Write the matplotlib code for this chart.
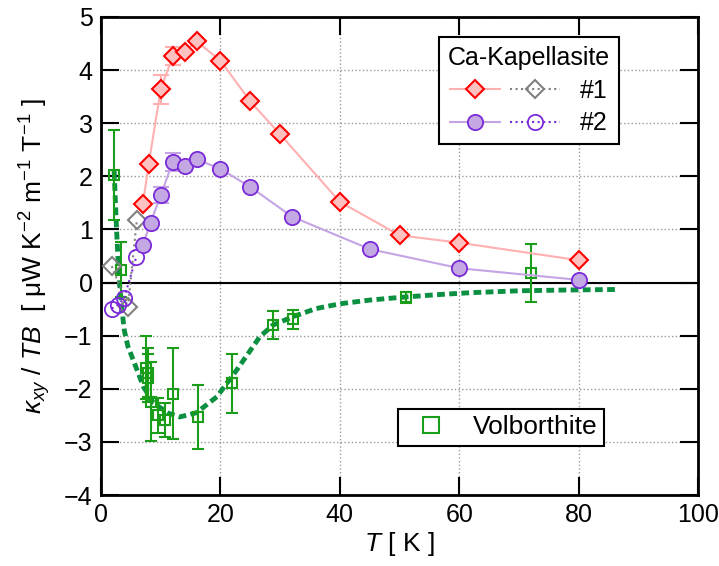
import matplotlib
matplotlib.use('Agg')
import matplotlib.pyplot as plt
from matplotlib.lines import Line2D
from matplotlib.legend_handler import HandlerTuple

plt.rcParams['font.family'] = ['Liberation Sans', 'DejaVu Sans']
plt.rcParams['mathtext.fontset'] = 'custom'
plt.rcParams['mathtext.rm'] = 'Liberation Sans'
plt.rcParams['mathtext.it'] = 'Liberation Sans:italic'

# Ca-Kapellasite sample #1 (filled) and low-T (open)
t1 = [7, 8, 10, 12, 14, 16, 20, 25, 30, 40, 50, 60, 80]
k1 = [1.47, 2.24, 3.64, 4.26, 4.35, 4.54, 4.18, 3.41, 2.79, 1.52, 0.89, 0.75, 0.42]
e1 = [0, 0, 0.27, 0.17, 0, 0, 0, 0, 0, 0, 0, 0, 0]
t1_open = [1.8, 4.5, 6.0]
k1_open = [0.31, -0.46, 1.18]

# Ca-Kapellasite sample #2
t2 = [7, 8.3, 10, 12, 14, 16, 20, 25, 32, 45, 60, 80]
k2 = [0.70, 1.13, 1.64, 2.27, 2.20, 2.32, 2.14, 1.80, 1.24, 0.63, 0.27, 0.05]
e2 = [0, 0, 0.15, 0.17, 0, 0, 0, 0, 0, 0, 0, 0]
t2_open = [1.8, 2.8, 3.85, 5.9]
k2_open = [-0.49, -0.42, -0.30, 0.48]

# Volborthite
tv = [2.2, 3.35, 7.6, 7.8, 7.9, 8.3, 9.6, 10.7, 12.1, 16.2, 21.9, 28.8, 32.2, 51, 72]
kv = [2.03, 0.24, -1.60, -1.70, -1.80, -2.24, -2.50, -2.58, -2.09, -2.53, -1.90, -0.80, -0.69, -0.28, 0.18]
ev = [0.85, 0.52, 0.60, 0.46, 0.45, 0.75, 0.33, 0.32, 0.85, 0.60, 0.56, 0.27, 0.18, 0.10, 0.55]

# dashed guide curve for Volborthite
tf = [2.2, 2.6, 3.0, 3.5, 3.9, 4.5, 5.4, 7.1, 8.8, 11.3, 13.2, 16, 19.4, 22.7, 26.6, 28.8, 32.2,
      36, 40, 45, 50, 56, 62, 70, 78, 86.6]
kf = [2.1, 1.0, 0.1, -0.5, -0.9, -1.2, -1.46, -1.96, -2.27, -2.46, -2.53, -2.45, -2.15, -1.65, -1.02, -0.80, -0.64,
      -0.49, -0.40, -0.33, -0.28, -0.23, -0.19, -0.155, -0.14, -0.13]

red_face, red_edge, red_line = '#ffc0c0', '#ff0000', '#ffb0b0'
pur_face, pur_edge, pur_line = '#c4a8e4', '#7a2ad8', '#c4a4e4'
green = '#1a9e1a'
fitc = '#0a9040'

fig = plt.figure(figsize=(7.19, 5.66), dpi=100)
ax = fig.add_axes([0.1405, 0.1254, 0.8305, 0.8446])

ax.axhline(0, color='k', lw=1.5, zorder=1)

ax.plot(tf, kf, color=fitc, lw=3.5, dashes=(1.6, 0.9), zorder=2)

ax.errorbar(tv, kv, yerr=ev, fmt='s', ms=7.5, mfc='none', mec=green, mew=1.5,
            ecolor=green, elinewidth=1.5, capsize=4, capthick=1.5, zorder=3)

ax.plot(t1_open, k1_open, ls=':', color='gray', lw=1.5, marker='D', ms=9.5,
        mfc='none', mec='gray', mew=1.5, zorder=4)
ax.plot(t2_open, k2_open, ls=':', color=pur_edge, lw=1.5, marker='o', ms=11,
        mfc='none', mec=pur_edge, mew=1.3, zorder=4)

ax.errorbar(t1, k1, yerr=e1, fmt='none', ecolor=red_line, elinewidth=1.5, capsize=6, capthick=1.5, zorder=4)
ax.plot(t1, k1, color=red_line, lw=1.5, marker='D', ms=9.5, mfc=red_face, mec=red_edge, mew=1.5, zorder=5)
ax.errorbar(t2, k2, yerr=e2, fmt='none', ecolor=pur_line, elinewidth=1.5, capsize=6, capthick=1.5, zorder=4)
ax.plot(t2, k2, color=pur_line, lw=1.5, marker='o', ms=11, mfc=pur_face, mec=pur_edge, mew=1.3, zorder=5)

ax.set_xlim(0, 100)
ax.set_ylim(-4, 5)
ax.set_xticks([0, 20, 40, 60, 80, 100])
ax.set_yticks(range(-4, 6))
ax.grid(True, ls=':', color='#999999', lw=1)
ax.set_axisbelow(True)
ax.tick_params(direction='in', length=13, width=1.5, top=True, right=True, labelsize=18, pad=6)
for s in ax.spines.values():
    s.set_linewidth(2)

ax.set_xlabel(r'$T$ [ K ]', fontsize=19, labelpad=2)
ax.set_ylabel(r'$\kappa_{xy}$ / $TB$  [ μW K$^{-2}$ m$^{-1}$ T$^{-1}$ ]', fontsize=19, labelpad=8)

h1a = Line2D([], [], color=red_line, lw=1.5, marker='D', ms=9.5, mfc=red_face, mec=red_edge, mew=1.5)
h1b = Line2D([], [], color='gray', ls=':', lw=1.5, marker='D', ms=9.5, mfc='none', mec='gray', mew=1.5)
h2a = Line2D([], [], color=pur_line, lw=1.5, marker='o', ms=11, mfc=pur_face, mec=pur_edge, mew=1.3)
h2b = Line2D([], [], color=pur_edge, ls=':', lw=1.5, marker='o', ms=11, mfc='none', mec=pur_edge, mew=1.3)
leg1 = ax.legend([(h1a, h1b), (h2a, h2b)], ['#1', '#2'], title='Ca-Kapellasite',
                 handler_map={tuple: HandlerTuple(ndivide=None, pad=0.4)},
                 handlelength=4.4, fontsize=18, title_fontsize=18, loc='upper left',
                 bbox_to_anchor=(0.566, 0.958), borderaxespad=0, fancybox=False,
                 framealpha=1, edgecolor='k', labelspacing=0.35, handletextpad=0.8,
                 borderpad=0.35)
leg1.get_frame().set_linewidth(1.5)
ax.add_artist(leg1)

hv = Line2D([], [], ls='none', marker='s', ms=11, mfc='none', mec=green, mew=1.5)
leg2 = ax.legend([hv], ['Volborthite'], fontsize=19, loc='lower left',
                 bbox_to_anchor=(0.497, 0.1025), borderaxespad=0, fancybox=False,
                 framealpha=1, edgecolor='k', handlelength=2.0, handletextpad=0.6,
                 borderpad=0.25)
leg2.get_frame().set_linewidth(1.5)

fig.savefig('out.png', dpi=100)
